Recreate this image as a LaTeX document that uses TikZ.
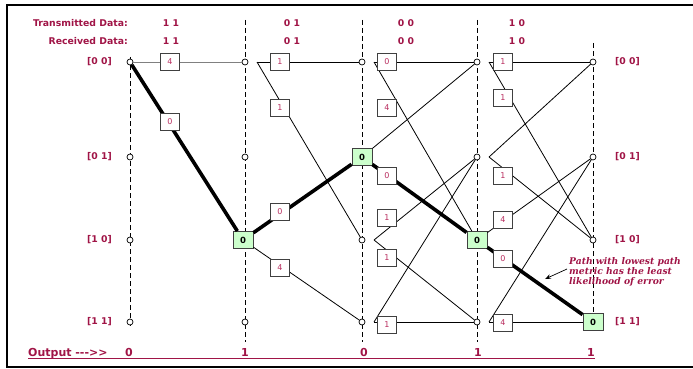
\documentclass[tikz,border=0pt]{standalone}
\usepackage{fontspec}
\setmainfont{DejaVu Sans}
\newfontfamily\annfont{DejaVu Serif}
\usetikzlibrary{arrows.meta}
\definecolor{crim}{RGB}{160,20,70}
\definecolor{numc}{RGB}{185,45,95}
\definecolor{lgreen}{RGB}{204,255,204}
\begin{document}
\begin{tikzpicture}[x=1pt,y=-1pt,
  dot/.style={circle,draw=black,fill=white,line width=0.7pt,inner sep=0pt,minimum size=6pt},
  lbl/.style={draw=black!75,fill=white,line width=0.9pt,minimum width=19pt,minimum height=17pt,inner sep=0pt,font=\fontsize{8}{9}\selectfont,text=numc},
  gbox/.style={draw=black!75,fill=lgreen,line width=0.9pt,minimum width=20pt,minimum height=17pt,inner sep=0pt,font=\bfseries\fontsize{8.5}{9}\selectfont},
  conn/.style={line width=0.8pt},
  best/.style={line width=3.6pt},
  guide/.style={line width=0.8pt,dash pattern=on 5pt off 3pt},
  hdr/.style={font=\bfseries\fontsize{9.3}{10}\selectfont,text=crim,inner sep=0pt},
  outs/.style={font=\bfseries\fontsize{11}{12}\selectfont,text=crim,inner sep=0pt}
]
\useasboundingbox (0,0) rectangle (693,369);
% frame
\draw[line width=2pt] (693,5) -- (7,5) -- (7,367) -- (693,367);
% dashed guides
\draw[guide] (130,57) -- (130,328);
\draw[guide] (245,20) -- (245,342);
\draw[guide] (362,20) -- (362,342);
\draw[guide] (477,20) -- (477,342);
\draw[guide] (593,43) -- (593,330);
% state circles and out-points
\foreach \c/\x in {0/130,1/245,2/362,3/477,4/593}{
  \foreach \r/\y in {0/62,1/157,2/240,3/322}{
    \node[dot] (n\c\r) at (\x,\y) {};
    \coordinate (s\c\r) at (\x+12,\y);
  }}
% survivor nodes
\node[gbox] (g1) at (243,240) {0};
\node[gbox] (g2) at (362,157) {0};
\node[gbox] (g3) at (477,240) {0};
\node[gbox] (g4) at (593,322) {0};
% stage 0
\draw[conn,gray] (n00) -- (n10);
\draw[best] (n00) -- (g1);
% stage 1
\draw[conn] (s10) -- (n20);
\draw[conn] (s10) -- (n22);
\draw[best] (g1) -- (g2);
\draw[conn] (g1) -- (n23);
% stage 2
\draw[conn] (s20) -- (n30);
\draw[conn] (s20) -- (g3);
\draw[conn] (g2) -- (n30);
\draw[best] (g2) -- (g3);
\draw[conn] (s22) -- (n31);
\draw[conn] (s22) -- (n33);
\draw[conn] (s23) -- (n31);
\draw[conn] (s23) -- (n33);
% stage 3
\draw[conn] (s30) -- (n40);
\draw[conn] (s30) -- (n42);
\draw[conn] (s31) -- (n40);
\draw[conn] (s31) -- (n42);
\draw[conn] (g3) -- (n41);
\draw[best] (g3) -- (g4);
\draw[conn] (s33) -- (n41);
\draw[conn] (s33) -- (g4);
% branch metrics
\foreach \x/\y/\t in {170/62/4,170/122/0,
  280/62/1,280/108/1,280/212/0,280/268/4,
  387/62/0,387/108/4,387/176/0,387/218/1,387/258/1,387/325/1,
  503/62/1,503/98/1,503/176/1,503/220/4,503/259/0,503/323/4}
  \node[lbl] (l\x-\y) at (\x,\y) {\t};
% headers
\node[hdr,anchor=east] (tx) at (128,23) {Transmitted Data:};
\node[hdr,anchor=east] (rx) at (128,41) {Received Data:};
\foreach \x/\t in {171/1 1,292/0 1,406/0 0,517/1 0}{
  \node[hdr] (t\x) at (\x,23) {\t};
  \node[hdr] (r\x) at (\x,41) {\t};
}
% state labels
\foreach \y/\t in {62/[0 0],157/[0 1],240/[1 0],322/[1 1]}{
  \node[hdr,anchor=east] (sl\y) at (112,\y) {\t};
  \node[hdr,anchor=west] (sr\y) at (615,\y) {\t};
}
% output row
\node[outs,anchor=base west] (out) at (28,356) {Output -{}-{}->{}>};
\foreach \x/\t in {129/0,245/1,364/0,478/1,591/1}
  \node[outs,anchor=base] (o\x) at (\x,356) {\t};
\draw[crim,line width=1pt] (28,358.5) -- (595,358.5);
% annotation
\node[anchor=north west,align=left,inner sep=0pt,text=crim,
  font=\annfont\bfseries\itshape\fontsize{9.2}{10}\selectfont] (ann) at (569,257)
  {Path with lowest path\\metric has the least\\likelihood of error};
\coordinate (atail) at (567,269);
\coordinate (atip) at (545,279);
\draw[line width=0.7pt,-{Stealth[length=6pt,width=4.5pt]}] (atail) -- (atip);
\end{tikzpicture}
\end{document}
